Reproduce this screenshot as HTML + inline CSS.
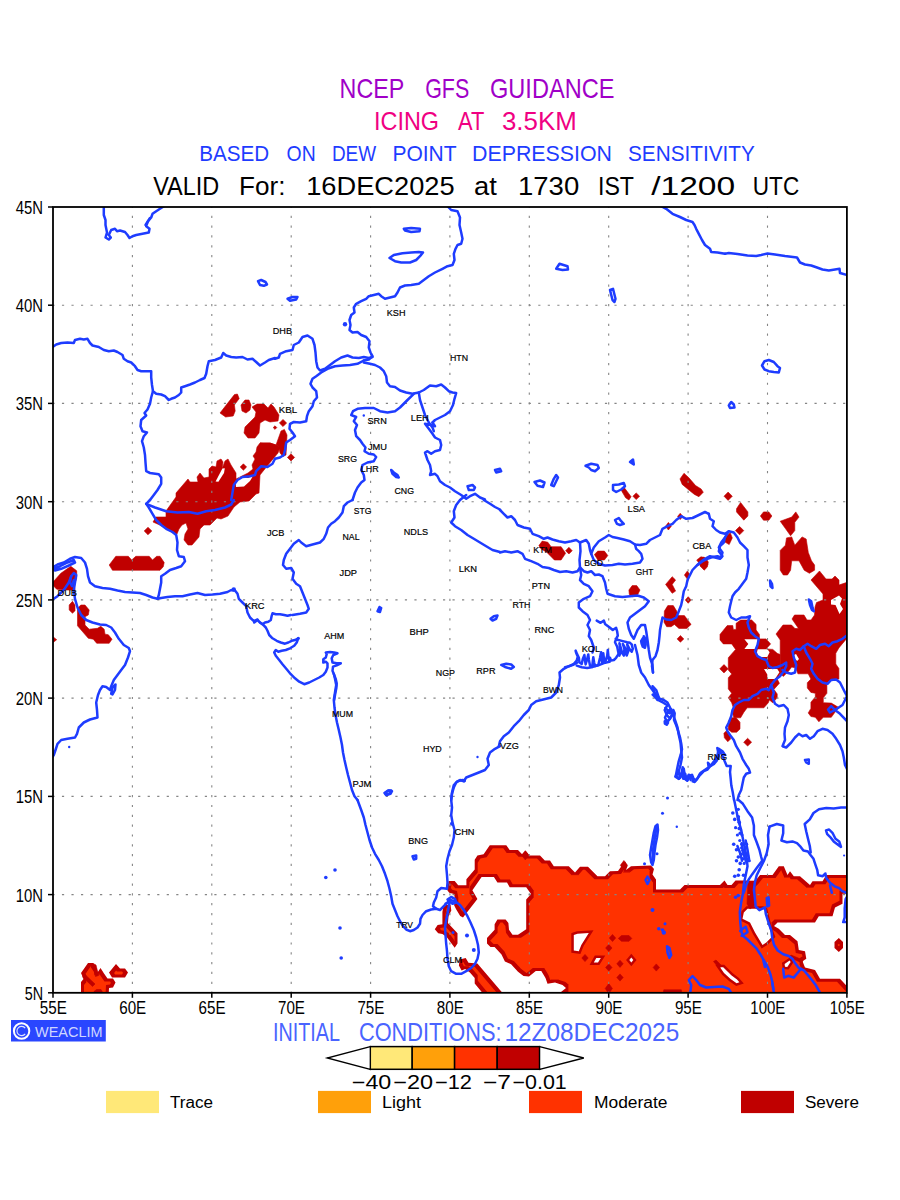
<!DOCTYPE html>
<html><head><meta charset="utf-8"><title>NCEP GFS Guidance - Icing</title>
<style>
html,body{margin:0;padding:0;background:#fff;}
body{width:900px;height:1200px;overflow:hidden;font-family:"Liberation Sans",sans-serif;}
svg{display:block;}
text{font-family:"Liberation Sans",sans-serif;}
.c{fill:none;stroke:#1e3cff;stroke-width:2.5;stroke-linejoin:round;stroke-linecap:round;}
.sv{fill:#c00000;stroke:#c00000;stroke-width:1;stroke-linejoin:round;}
.mo{fill:#ff3200;stroke:#c00000;stroke-width:2.4;stroke-linejoin:miter;}
.ho{fill:#fff;stroke:#c00000;stroke-width:2.4;stroke-linejoin:miter;}
.st{font-size:8.6px;fill:#000;}
</style></head><body>
<svg width="900" height="1200" viewBox="0 0 900 1200">
<rect x="0" y="0" width="900" height="1200" fill="#fff"/>
<defs><filter id="er" x="-5%" y="-5%" width="110%" height="110%" filterUnits="objectBoundingBox"><feMorphology operator="erode" radius="2.5"/></filter></defs>
<defs><clipPath id="mc"><rect x="53.0" y="207.0" width="793.9" height="785.8"/></clipPath></defs>
<g clip-path="url(#mc)">
<path fill="#c00000" d="M550.0 860.4 L553.8 866.3 L568.8 866.3 L575.0 872.5 L580.0 866.8 L588.0 866.8 L597.5 876.3 L605.0 876.3 L610.0 871.3 L618.0 871.0 L625.0 861.3 L627.5 866.3 L626.0 870.0 L631.0 866.3 L651.0 865.5 L654.0 869.0 L652.5 874.5 L656.0 879.5 L656.0 889.5 L680.0 889.5 L684.5 885.0 L720.0 885.0 L724.5 880.5 L727.5 885.0 L731.5 885.0 L735.5 880.5 L749.0 880.5 L752.0 884.0 L755.0 881.3 L760.0 875.0 L772.5 875.0 L778.8 866.3 L783.8 866.3 L787.5 875.0 L790.0 871.3 L793.8 876.3 L800.0 876.3 L810.0 885.0 L812.5 881.3 L822.5 881.3 L826.3 875.0 L860.0 875.0 L860.0 893.8 L842.5 893.8 L842.5 903.8 L835.0 907.5 L832.5 916.3 L818.8 916.3 L815.0 922.5 L777.5 922.5 L774.0 926.0 L778.8 928.8 L785.0 935.0 L790.0 935.0 L797.5 941.3 L798.8 950.0 L805.0 951.3 L806.3 958.8 L802.5 961.3 L805.0 967.5 L815.0 970.0 L820.0 978.8 L840.0 978.8 L860.0 1000.0 L860.0 1010.0 L561.0 1010.0 L561.0 992.0 L566.0 988.0 L562.5 985.0 L555.0 982.5 L547.5 983.8 L545.5 978.0 L541.3 971.1 L535.8 971.1 L529.0 976.6 L523.5 975.9 L518.0 971.8 L511.1 964.2 L504.9 961.5 L501.5 954.6 L494.6 947.0 L490.5 947.0 L487.0 943.6 L487.0 938.1 L494.6 929.8 L494.6 924.3 L497.4 919.5 L505.6 919.5 L508.4 923.0 L509.0 929.8 L512.5 934.7 L518.0 934.7 L526.2 929.2 L526.2 899.6 L531.0 894.1 L526.2 887.2 L509.7 887.2 L507.0 882.4 L497.4 882.4 L493.9 876.9 L481.6 876.9 L472.4 890.3 L477.4 898.9 L463.0 917.5 L460.2 916.1 L456.1 909.2 L454.0 905.1 L455.4 901.0 L454.0 894.1 L449.2 892.7 L447.2 890.0 L448.6 881.0 L454.7 881.0 L458.2 885.2 L466.4 885.2 L466.4 879.2 L474.7 869.4 L474.7 859.7 L477.4 855.6 L483.6 854.2 L489.8 845.3 L506.3 845.3 L509.7 850.1 L518.0 850.1 L522.1 854.2 L525.5 850.8 L529.7 855.6 L540.0 855.6 L544.8 860.4Z M443.7 905.1 L450.6 905.1 L451.3 910.6 L448.6 916.1 L447.9 923.0 L457.5 933.3 L457.5 943.6 L454.7 947.7 L450.6 942.2 L446.5 936.7 L442.4 934.0 L438.2 933.3 L434.8 929.2 L437.6 925.0 L442.4 924.3 L442.4 912.0Z M459.6 959.4 L465.7 958.0 L468.5 962.8 L477.4 963.5 L501.5 991.7 L517.1 1010.0 L496.7 1010.0 L481.5 991.7 L474.7 983.5 L474.7 978.0 L469.9 972.5 L465.1 969.0 L461.6 970.4 L458.9 965.6Z M838.8 938.0 L843.0 942.0 L843.0 948.0 L838.8 952.0 L834.5 948.0 L834.5 942.0Z M81.0 973.0 L88.0 963.0 L93.0 963.0 L97.0 969.0 L97.5 972.5 L100.5 968.0 L104.0 973.5 L107.5 978.5 L113.0 978.5 L115.5 982.5 L113.0 987.5 L109.0 988.0 L108.5 998.0 L81.0 998.0 L81.0 982.0 L83.5 979.0Z M109.0 972.5 L116.0 964.0 L120.0 968.5 L125.0 968.5 L128.0 972.5 L125.0 977.5 L112.0 977.5Z"/>
<g filter="url(#er)"><path fill="#ff3200" d="M550.0 860.4 L553.8 866.3 L568.8 866.3 L575.0 872.5 L580.0 866.8 L588.0 866.8 L597.5 876.3 L605.0 876.3 L610.0 871.3 L618.0 871.0 L625.0 861.3 L627.5 866.3 L626.0 870.0 L631.0 866.3 L651.0 865.5 L654.0 869.0 L652.5 874.5 L656.0 879.5 L656.0 889.5 L680.0 889.5 L684.5 885.0 L720.0 885.0 L724.5 880.5 L727.5 885.0 L731.5 885.0 L735.5 880.5 L749.0 880.5 L752.0 884.0 L755.0 881.3 L760.0 875.0 L772.5 875.0 L778.8 866.3 L783.8 866.3 L787.5 875.0 L790.0 871.3 L793.8 876.3 L800.0 876.3 L810.0 885.0 L812.5 881.3 L822.5 881.3 L826.3 875.0 L860.0 875.0 L860.0 893.8 L842.5 893.8 L842.5 903.8 L835.0 907.5 L832.5 916.3 L818.8 916.3 L815.0 922.5 L777.5 922.5 L774.0 926.0 L778.8 928.8 L785.0 935.0 L790.0 935.0 L797.5 941.3 L798.8 950.0 L805.0 951.3 L806.3 958.8 L802.5 961.3 L805.0 967.5 L815.0 970.0 L820.0 978.8 L840.0 978.8 L860.0 1000.0 L860.0 1010.0 L561.0 1010.0 L561.0 992.0 L566.0 988.0 L562.5 985.0 L555.0 982.5 L547.5 983.8 L545.5 978.0 L541.3 971.1 L535.8 971.1 L529.0 976.6 L523.5 975.9 L518.0 971.8 L511.1 964.2 L504.9 961.5 L501.5 954.6 L494.6 947.0 L490.5 947.0 L487.0 943.6 L487.0 938.1 L494.6 929.8 L494.6 924.3 L497.4 919.5 L505.6 919.5 L508.4 923.0 L509.0 929.8 L512.5 934.7 L518.0 934.7 L526.2 929.2 L526.2 899.6 L531.0 894.1 L526.2 887.2 L509.7 887.2 L507.0 882.4 L497.4 882.4 L493.9 876.9 L481.6 876.9 L472.4 890.3 L477.4 898.9 L463.0 917.5 L460.2 916.1 L456.1 909.2 L454.0 905.1 L455.4 901.0 L454.0 894.1 L449.2 892.7 L447.2 890.0 L448.6 881.0 L454.7 881.0 L458.2 885.2 L466.4 885.2 L466.4 879.2 L474.7 869.4 L474.7 859.7 L477.4 855.6 L483.6 854.2 L489.8 845.3 L506.3 845.3 L509.7 850.1 L518.0 850.1 L522.1 854.2 L525.5 850.8 L529.7 855.6 L540.0 855.6 L544.8 860.4Z M443.7 905.1 L450.6 905.1 L451.3 910.6 L448.6 916.1 L447.9 923.0 L457.5 933.3 L457.5 943.6 L454.7 947.7 L450.6 942.2 L446.5 936.7 L442.4 934.0 L438.2 933.3 L434.8 929.2 L437.6 925.0 L442.4 924.3 L442.4 912.0Z M459.6 959.4 L465.7 958.0 L468.5 962.8 L477.4 963.5 L501.5 991.7 L517.1 1010.0 L496.7 1010.0 L481.5 991.7 L474.7 983.5 L474.7 978.0 L469.9 972.5 L465.1 969.0 L461.6 970.4 L458.9 965.6Z M838.8 938.0 L843.0 942.0 L843.0 948.0 L838.8 952.0 L834.5 948.0 L834.5 942.0Z M81.0 973.0 L88.0 963.0 L93.0 963.0 L97.0 969.0 L97.5 972.5 L100.5 968.0 L104.0 973.5 L107.5 978.5 L113.0 978.5 L115.5 982.5 L113.0 987.5 L109.0 988.0 L108.5 998.0 L81.0 998.0 L81.0 982.0 L83.5 979.0Z M109.0 972.5 L116.0 964.0 L120.0 968.5 L125.0 968.5 L128.0 972.5 L125.0 977.5 L112.0 977.5Z"/></g>
<g fill="#fff" stroke="#c00000" stroke-width="5" paint-order="stroke" stroke-linejoin="miter">
<path d="M747.5 908.8 L762.5 908.8 L765.0 910.0 L770.0 930.0 L772.5 936.3 L766.3 942.5 L762.5 945.0 L755.0 932.5 L750.0 922.5 L742.5 918.8 L743.8 912.5Z"/>
<path d="M784.6 964.0 L789.6 960.6 L790.6 962.0 L787.3 967.0 L785.0 966.8Z"/>
<path d="M720.0 967.2 L723.2 967.2 L731.3 975.3 L737.0 979.6 L739.4 982.3 L736.6 983.2 L730.6 979.0 L724.0 973.0Z"/>
<path d="M573.8 935.0 L577.5 933.8 L588.8 933.0 L581.3 945.0 L578.8 951.3 L573.8 950.5Z"/>
<path d="M596.3 958.0 L600.8 958.0 L598.0 962.5 L593.8 962.5Z"/>
<path d="M629.3 960.0 L631.3 957.6 L633.3 960.0 L631.3 962.4Z"/>
</g>
<g fill="#c00000" stroke="#c00000" stroke-width="0.6" stroke-linejoin="round">
<path d="M82.5 977.0 L85.0 974.5 L95.0 984.0 L92.5 986.5Z"/>
<path d="M93.0 963.5 L96.0 965.0 L98.5 975.5 L95.5 976.5Z"/>
<path d="M94.0 991.5 L96.5 989.5 L101.0 989.5 L103.0 993.0 L94.0 993.0Z"/>
<path d="M609.3 938.0 L612.5 934.4 L615.7 938.0 L612.5 941.6Z"/>
<path d="M605.6 948.0 L608.8 944.4 L612.0 948.0 L608.8 951.6Z"/>
<path d="M581.8 958.0 L585.0 954.4 L588.2 958.0 L585.0 961.6Z"/>
<path d="M616.8 963.8 L620.0 960.2 L623.2 963.8 L620.0 967.4Z"/>
<path d="M605.6 967.5 L608.8 963.9 L612.0 967.5 L608.8 971.1Z"/>
<path d="M616.8 977.5 L620.0 973.9 L623.2 977.5 L620.0 981.1Z"/>
<path d="M653.1 967.5 L656.3 963.9 L659.5 967.5 L656.3 971.1Z"/>
<path d="M605.2 988.5 L608.8 983.5 L612.4 988.5 L608.8 993.5Z"/>
<path d="M521.7 855.3 L525.3 850.7 L528.9 855.3 L525.3 859.9Z"/>
<path d="M620.3 865.3 L623.9 860.5 L627.5 865.3 L623.9 870.1Z"/>
<path d="M618.3 938.4 L621.5 935.5 L629.0 935.5 L631.8 938.4 L629.0 941.3 L621.5 941.3Z"/>
<path d="M663.8 989.8 L681.3 989.8 L682.0 994.0 L663.0 994.0Z"/>
<path d="M748.0 881.0 L755.0 881.0 L755.0 905.0 L750.0 909.0 L747.0 904.0Z"/>
<path d="M713.5 961.5 L716.0 960.0 L722.0 966.0 L719.0 968.0Z"/>
<path d="M789.0 957.0 L791.0 955.0 L803.0 960.0 L802.0 963.0Z"/>
<path d="M220.0 413.0 L234.4 394.6 L237.4 394.0 L239.2 398.6 L234.4 405.0 L235.2 411.0 L233.2 416.0 L225.6 417.0Z"/>
<path d="M241.0 405.0 L245.0 400.0 L249.0 400.0 L251.0 405.0 L250.0 410.0 L246.0 413.0 L242.0 411.0Z"/>
<path d="M252.0 407.0 L257.0 404.0 L264.0 404.0 L268.0 408.0 L271.0 404.0 L274.0 407.0 L279.0 415.0 L278.0 421.0 L270.0 422.0 L265.0 420.0 L260.0 423.0 L259.0 433.0 L255.0 438.0 L248.0 438.0 L244.0 433.0 L245.0 427.0 L249.0 423.0 L255.0 417.0 L256.0 412.0Z"/>
<path d="M273.2 427.6 L275.0 425.8 L276.8 427.6 L275.0 429.4Z"/>
<path d="M279.4 423.0 L283.0 419.4 L286.6 423.0 L283.0 426.6Z"/>
<path d="M287.4 457.4 L291.0 453.8 L294.6 457.4 L291.0 461.0Z"/>
<path d="M240.2 467.0 L243.4 463.8 L246.6 467.0 L243.4 470.2Z"/>
<path d="M144.2 531.0 L148.0 527.2 L151.8 531.0 L148.0 534.8Z"/>
<path d="M281.0 431.0 L284.4 429.4 L287.0 435.0 L286.0 455.0 L283.0 456.4 L280.0 453.0 L278.4 446.0 L260.0 443.0 L270.0 443.0 L276.0 445.0Z"/>
<path d="M260.0 443.0 L270.0 443.0 L276.0 445.0 L280.0 447.0 L278.0 453.0 L268.0 465.0 L260.0 475.0 L259.0 493.0 L256.0 494.0 L249.0 501.0 L240.0 502.0 L234.0 507.0 L228.0 516.0 L221.0 519.0 L217.0 518.0 L210.0 525.0 L204.0 525.0 L200.0 529.0 L199.0 537.0 L192.0 545.0 L188.0 545.0 L184.0 540.0 L185.0 534.0 L188.0 529.0 L186.0 523.0 L182.0 525.0 L179.0 529.0 L177.0 534.0 L173.0 533.0 L162.0 526.0 L153.0 522.0 L156.0 517.0 L166.0 517.0 L166.0 511.0 L176.0 497.0 L176.0 493.0 L188.0 479.0 L190.0 482.0 L198.0 482.0 L197.0 477.0 L200.0 473.0 L204.0 478.0 L209.0 477.0 L209.0 469.0 L212.0 466.0 L216.0 467.0 L217.0 461.0 L221.0 459.0 L223.0 462.0 L222.0 469.0 L225.0 461.0 L228.0 459.0 L231.0 465.0 L236.0 473.0 L236.0 479.0 L248.0 473.0 L253.0 469.0 L252.0 465.0 L255.0 459.0 L253.0 456.0 L256.0 452.0 L257.0 447.0Z"/>
<path d="M109.2 565.0 L115.8 556.3 L128.3 556.3 L131.7 560.0 L135.8 556.3 L149.2 556.3 L152.5 560.0 L156.7 556.3 L160.0 556.3 L164.2 562.5 L163.3 566.7 L160.0 570.3 L112.5 570.3Z"/>
<path d="M46.7 583.3 L53.3 581.7 L60.8 573.3 L70.8 566.3 L76.7 570.8 L76.7 578.3 L74.2 585.0 L75.0 590.0 L65.0 590.0 L56.7 589.2 L53.3 585.8 L46.7 588.3Z"/>
<path d="M69.2 605.0 L72.5 601.3 L75.0 605.0 L75.0 610.8 L72.5 613.3 L69.2 610.0Z"/>
<path d="M77.5 608.3 L80.8 605.0 L85.0 605.0 L89.2 610.0 L88.3 615.0 L85.0 616.7 L85.0 625.0 L89.2 629.2 L97.5 628.3 L100.8 626.3 L104.2 629.2 L105.0 634.2 L108.3 634.7 L112.0 639.2 L109.2 643.3 L96.7 643.3 L93.3 639.2 L88.3 638.3 L77.5 625.8Z"/>
<path d="M48.3 636.3 L52.5 636.3 L56.7 639.7 L52.5 643.0 L48.3 643.0Z"/>
<path d="M538.9 545.6 L542.2 541.1 L547.8 542.2 L551.1 546.7 L561.1 546.7 L565.6 553.3 L561.1 560.0 L554.4 560.0 L546.7 552.2 L541.1 548.9Z"/>
<path d="M565.6 550.7 L568.9 547.3 L572.2 550.7 L568.9 554.0Z"/>
<path d="M594.4 554.4 L597.8 551.1 L604.4 551.1 L607.8 555.6 L604.4 560.0 L597.8 560.0Z"/>
<path d="M621.1 490.0 L624.4 487.8 L631.1 496.7 L628.9 500.0 L625.6 497.8Z"/>
<path d="M632.9 496.2 L636.2 492.9 L639.6 496.2 L636.2 499.6Z"/>
<path d="M680.0 478.9 L684.0 473.3 L688.9 477.8 L695.6 485.6 L701.1 488.9 L703.3 492.2 L698.9 496.7 L694.4 494.4 L688.9 490.0 L682.2 484.4Z"/>
<path d="M665.6 526.2 L668.4 522.4 L671.3 526.2 L668.4 530.0Z"/>
<path d="M677.6 516.4 L680.2 513.3 L682.9 516.4 L680.2 519.6Z"/>
<path d="M696.7 560.0 L701.1 556.7 L706.7 558.9 L707.8 564.4 L704.4 569.3 L700.0 564.4Z"/>
<path d="M684.4 575.1 L687.3 571.1 L690.2 575.1 L687.3 579.1Z"/>
<path d="M665.6 584.4 L672.2 576.7 L675.6 580.0 L672.2 584.4 L675.6 591.1 L672.2 593.3Z"/>
<path d="M685.3 600.0 L688.2 596.7 L691.1 600.0 L688.2 603.3Z"/>
<path d="M628.9 590.0 L632.2 585.6 L636.7 585.6 L640.0 590.0 L637.8 594.4 L632.2 596.7 L629.3 594.4Z"/>
<path d="M664.4 611.1 L667.8 605.6 L673.3 605.6 L676.7 611.1 L677.8 615.6 L684.4 615.6 L691.1 624.4 L686.7 628.4 L678.9 628.4 L674.4 624.4 L671.1 626.7 L666.7 626.7 L664.0 622.2Z"/>
<path d="M677.1 638.9 L680.4 635.6 L683.8 638.9 L680.4 642.2Z"/>
<path d="M724.0 496.2 L728.1 492.1 L732.3 496.2 L728.1 500.4Z"/>
<path d="M736.5 508.8 L740.6 502.5 L747.9 511.9 L747.9 516.0 L743.8 520.2 L736.5 511.9Z"/>
<path d="M735.4 530.6 L739.6 526.5 L743.8 530.6 L739.6 534.8Z"/>
<path d="M725.0 536.9 L730.2 532.7 L732.3 537.9 L729.2 544.6 L725.0 542.1Z"/>
<path d="M700.0 557.7 L704.2 557.1 L708.3 561.9 L707.3 567.1 L704.2 570.2 L700.0 566.0Z"/>
<path d="M760.4 516.0 L763.5 511.9 L768.8 511.9 L771.9 516.0 L768.8 520.2 L763.5 520.2Z"/>
<path d="M780.2 521.2 L791.7 517.1 L795.8 511.9 L799.0 517.1 L794.8 522.3 L794.8 530.6 L790.6 535.8 L785.4 528.5Z"/>
<path d="M780.2 550.4 L785.4 545.2 L786.5 537.9 L791.7 536.9 L794.8 545.2 L802.1 536.9 L806.2 539.0 L808.3 552.5 L811.5 560.8 L814.6 565.0 L814.6 570.2 L809.4 573.3 L804.2 570.2 L799.0 560.8 L791.7 560.8 L790.6 570.2 L787.5 575.0 L783.3 575.0 L780.2 570.2Z"/>
<path d="M811.0 580.0 L819.5 571.0 L826.0 579.0 L832.0 579.0 L835.0 576.0 L839.0 580.0 L839.0 585.0 L849.0 581.7 L849.0 635.8 L838.9 647.9 L835.8 653.3 L835.8 664.0 L838.9 668.4 L838.9 679.1 L832.2 679.1 L826.9 682.7 L826.9 693.3 L823.3 697.8 L823.3 702.7 L831.3 703.1 L838.9 707.6 L835.8 711.1 L831.3 717.3 L823.3 717.3 L818.9 721.8 L815.3 717.3 L810.9 716.5 L808.2 712.9 L810.9 708.4 L810.9 702.2 L815.3 696.9 L815.3 693.3 L810.9 692.4 L807.3 688.0 L807.3 682.7 L810.9 679.1 L808.2 673.8 L797.9 673.8 L795.8 668.1 L791.7 667.1 L788.5 671.2 L783.3 676.5 L780.2 673.3 L780.2 654.6 L780.2 640.0 L776.0 634.0 L783.0 625.0 L791.5 625.0 L795.0 628.5 L798.5 628.5 L792.0 619.0 L794.5 615.0 L804.0 615.0 L807.0 620.0 L811.0 620.0 L814.5 615.0 L815.0 607.0 L816.5 602.5 L823.0 600.0 L823.0 594.0Z"/>
<path d="M720.0 634.4 L727.2 625.6 L732.8 625.6 L733.3 629.4 L736.1 629.4 L736.1 623.3 L740.6 620.0 L751.7 620.0 L756.1 624.4 L756.1 630.0 L759.4 634.4 L759.4 638.9 L766.1 638.9 L770.6 643.9 L766.1 648.9 L772.8 649.4 L777.2 653.3 L780.2 654.6 L780.2 673.3 L777.2 678.9 L779.4 683.3 L773.9 689.4 L777.2 693.9 L777.2 697.8 L772.8 702.8 L769.4 700.0 L768.3 702.8 L763.9 707.8 L747.2 707.8 L743.9 712.2 L740.6 717.8 L733.9 717.8 L732.2 712.2 L733.3 707.8 L731.7 702.8 L728.3 697.8 L731.7 693.3 L728.3 688.9 L728.3 677.8 L731.7 673.9 L728.3 670.0 L728.3 657.8 L735.6 649.4 L731.7 643.9 L723.3 643.9 L720.0 640.0Z"/>
<path d="M731.7 717.8 L736.1 717.8 L740.0 722.2 L740.0 728.9 L736.7 732.2 L731.7 732.2 L728.3 729.4 L728.3 721.1Z"/>
<path d="M723.9 733.3 L726.1 731.1 L730.0 734.4 L730.6 738.9 L727.8 741.7 L724.4 737.8Z"/>
<path d="M719.8 668.8 L724.0 664.6 L728.1 668.8 L724.0 672.9Z"/>
<path d="M743.7 742.2 L747.6 738.3 L751.6 742.2 L747.6 746.1Z"/>
</g>
<g fill="#fff">
<path d="M831.0 600.0 L839.0 595.5 L842.0 598.5 L840.0 604.0 L843.0 609.0 L839.5 614.0 L835.5 605.0 L831.0 604.5Z"/>
<path d="M794.0 655.0 L796.0 654.0 L799.0 659.0 L797.1 661.0 L794.6 658.5Z"/>
<path d="M744.4 639.2 L757.7 639.2 L756.7 649.0 L744.4 649.0 L748.3 644.0Z"/>
<path d="M757.7 649.2 L767.5 649.2 L769.6 652.3 L767.3 656.9 L759.4 656.9 L756.7 653.3Z"/>
<path d="M764.0 669.0 L777.3 669.0 L779.4 672.3 L775.0 679.0 L767.3 679.0 L767.3 674.4Z"/>
<path d="M215.6 481.4 L222.4 468.6 L224.8 468.2 L224.0 473.0 L218.4 481.8Z"/>
<path d="M236.0 487.0 L235.6 481.0 L240.0 477.0 L248.0 478.0 L253.0 476.0 L250.0 481.0 L244.0 486.6Z"/>
</g>
</g>
<g stroke="#858585" stroke-width="1.1" fill="none">
<line x1="132.4" y1="207.0" x2="132.4" y2="992.8" stroke-dasharray="2.2 7.62" stroke-dashoffset="1.1"/>
<line x1="211.8" y1="207.0" x2="211.8" y2="992.8" stroke-dasharray="2.2 7.62" stroke-dashoffset="1.1"/>
<line x1="291.2" y1="207.0" x2="291.2" y2="992.8" stroke-dasharray="2.2 7.62" stroke-dashoffset="1.1"/>
<line x1="370.6" y1="207.0" x2="370.6" y2="992.8" stroke-dasharray="2.2 7.62" stroke-dashoffset="1.1"/>
<line x1="449.9" y1="207.0" x2="449.9" y2="992.8" stroke-dasharray="2.2 7.62" stroke-dashoffset="1.1"/>
<line x1="529.3" y1="207.0" x2="529.3" y2="992.8" stroke-dasharray="2.2 7.62" stroke-dashoffset="1.1"/>
<line x1="608.7" y1="207.0" x2="608.7" y2="992.8" stroke-dasharray="2.2 7.62" stroke-dashoffset="1.1"/>
<line x1="688.1" y1="207.0" x2="688.1" y2="992.8" stroke-dasharray="2.2 7.62" stroke-dashoffset="1.1"/>
<line x1="767.5" y1="207.0" x2="767.5" y2="992.8" stroke-dasharray="2.2 7.62" stroke-dashoffset="1.1"/>
<line x1="53.0" y1="894.6" x2="846.9" y2="894.6" stroke-dasharray="2.2 7.326" stroke-dashoffset="0.6"/>
<line x1="53.0" y1="796.4" x2="846.9" y2="796.4" stroke-dasharray="2.2 7.326" stroke-dashoffset="0.6"/>
<line x1="53.0" y1="698.1" x2="846.9" y2="698.1" stroke-dasharray="2.2 7.326" stroke-dashoffset="0.6"/>
<line x1="53.0" y1="599.9" x2="846.9" y2="599.9" stroke-dasharray="2.2 7.326" stroke-dashoffset="0.6"/>
<line x1="53.0" y1="501.7" x2="846.9" y2="501.7" stroke-dasharray="2.2 7.326" stroke-dashoffset="0.6"/>
<line x1="53.0" y1="403.4" x2="846.9" y2="403.4" stroke-dasharray="2.2 7.326" stroke-dashoffset="0.6"/>
<line x1="53.0" y1="305.2" x2="846.9" y2="305.2" stroke-dasharray="2.2 7.326" stroke-dashoffset="0.6"/>
</g>
<g clip-path="url(#mc)">
<g class="c">
<path d="M103.8 205.0 L103.8 215.0 L105.5 220.0 L105.5 225.0 L107.0 232.5 L105.5 237.5 L108.8 239.5 L110.8 237.5 L108.8 235.0 L111.2 230.0 L115.0 228.8 L117.0 231.2 L120.0 230.5 L125.0 232.0 L127.5 235.0 L129.5 238.0 L132.5 236.2 L136.2 235.0 L142.5 233.8 L148.8 232.5 L149.5 228.8 L146.2 226.2 L148.0 221.2 L151.2 217.5 L152.5 213.8 L156.2 211.2 L160.0 208.8 L165.0 205.5"/>
<path d="M145.5 225.0 L150.0 218.0"/>
<path d="M258.0 281.2 L261.2 280.0 L265.5 282.0 L267.0 284.5 L263.8 285.8 L260.0 285.0Z"/>
<path d="M51.2 348.0 L56.2 344.5 L61.2 343.0 L67.5 342.5 L73.8 343.0 L75.0 340.0 L80.0 338.8 L83.8 339.5 L87.5 338.8 L90.0 343.0 L92.5 345.5 L98.8 347.0 L103.8 350.0 L108.8 351.2 L113.8 350.5 L117.5 352.0 L122.5 355.0 L123.8 358.8 L127.5 361.2 L131.2 362.5 L135.0 366.2 L137.5 370.0 L141.2 371.2 L151.2 371.2 L151.2 377.5 L152.0 385.0 L153.0 391.2 L156.2 393.8 L161.2 394.5 L165.0 396.2 L168.8 400.0 L171.2 398.8 L175.0 397.5 L178.8 395.0 L181.2 392.5 L181.2 387.5 L185.0 386.2 L190.0 384.5 L195.0 382.5 L200.0 380.0 L204.5 378.0 L206.2 373.8 L207.5 366.2 L208.8 361.2 L215.0 360.0 L221.2 357.5 L223.2 353.0 L226.2 355.5 L231.2 357.0 L236.2 357.5 L242.5 357.0 L247.5 359.5 L252.5 358.8 L256.2 362.0 L260.0 365.5 L265.0 362.5 L268.8 360.0 L275.0 358.0"/>
<path d="M153.0 391.2 L151.2 397.5 L150.0 403.8 L147.5 409.5 L144.5 413.0 L146.2 415.5 L141.2 420.0 L140.5 426.2 L142.5 431.2 L147.0 432.5 L143.8 436.2 L142.0 441.2 L143.8 447.5 L145.0 455.0 L145.5 462.5 L146.2 471.2 L150.0 473.0 L158.8 474.2 L161.2 477.5 L161.2 483.8 L157.5 490.0 L153.8 495.0 L150.0 500.0"/>
<path d="M231.2 500.0 L232.5 492.5 L233.8 485.0 L237.5 480.0 L242.5 477.0 L250.0 476.2 L255.0 475.0 L256.2 471.2 L261.2 466.2 L267.5 467.0 L272.5 463.8 L275.0 458.8"/>
<path d="M447.5 206.2 L451.2 210.0 L457.5 211.2 L460.0 217.5 L459.5 225.0 L461.2 232.5 L462.5 238.8 L461.2 243.8 L457.5 245.0 L455.5 248.8 L453.8 253.8 L454.5 260.0 L452.5 265.0 L447.5 266.2 L442.5 268.8 L435.0 272.5 L428.8 276.2 L423.8 280.0 L418.8 283.8 L411.2 285.0 L405.0 285.5 L400.0 287.5 L397.5 292.5 L395.0 296.2 L390.0 297.5 L385.0 298.8 L381.2 296.2 L378.8 293.8 L373.8 295.0 L368.8 296.2 L366.2 298.8 L361.2 301.2 L356.2 303.8 L353.8 307.5 L354.5 312.5 L351.2 315.0 L349.5 320.0 L350.5 325.0 L349.5 330.0 L352.5 332.5 L357.5 332.0 L361.2 335.0 L366.2 337.0 L369.5 341.2 L368.8 347.5 L370.5 352.5 L372.5 356.2 L368.8 359.5 L363.8 360.5"/>
<path d="M389.5 258.0 L393.8 255.0 L402.5 253.2 L411.2 252.5 L418.8 252.0 L423.0 252.5 L420.0 256.2 L416.2 260.0 L410.0 262.5 L401.2 262.5 L395.0 261.2Z"/>
<path d="M403.8 228.8 L411.2 228.0 L420.0 228.8 L419.5 231.2 L411.2 232.0 L405.0 230.5Z"/>
<path d="M287.5 298.8 L292.5 297.0 L297.5 297.0 L296.2 299.5 L290.0 300.8Z"/>
<path d="M275.0 358.8 L278.8 357.5 L280.0 353.8 L286.2 351.2 L292.5 350.0 L293.8 345.0 L298.8 342.5 L302.5 337.0 L307.5 335.5 L312.5 338.8 L314.5 345.0 L315.5 352.5 L316.2 361.2 L317.5 367.5 L320.0 370.5 L325.0 368.8 L330.0 365.0 L335.0 361.2 L341.2 357.5 L347.5 355.5 L352.5 357.5 L358.8 358.0 L363.8 357.0 L368.8 358.0 L372.5 357.0"/>
<path d="M363.8 360.5 L357.5 363.8 L350.0 365.0 L342.5 365.5 L335.0 366.2 L327.5 368.8 L321.2 372.5 L316.2 376.2 L312.5 378.8 L310.5 383.8 L312.5 387.5 L316.2 391.2 L317.0 397.5 L313.8 401.2 L312.5 406.2 L308.8 411.2 L307.0 416.2 L306.2 421.2 L300.0 422.5 L293.8 422.0 L290.0 423.8 L289.5 428.8 L292.5 432.5 L295.0 436.2 L290.0 440.0 L286.2 442.5 L285.0 450.0 L283.8 455.0 L280.0 457.5 L275.0 458.8"/>
<path d="M363.8 362.5 L370.0 363.8 L375.0 365.0 L380.0 367.5 L383.8 371.2 L386.2 376.2 L387.0 382.5 L390.0 386.2 L395.0 387.0 L400.0 390.5 L406.2 392.5 L412.5 393.8 L418.8 392.5 L423.8 390.0 L430.0 385.5 L436.2 386.2 L441.2 384.5 L445.0 387.5 L448.8 391.2 L452.5 392.5 L456.2 393.0 L454.5 398.8 L453.0 405.0 L450.0 411.2 L445.0 415.0 L440.0 417.5 L435.0 420.0 L432.5 422.5"/>
<path d="M418.8 392.5 L420.0 400.0 L422.5 407.5 L425.0 415.0 L428.8 422.5 L432.5 427.5 L433.8 431.2"/>
<path d="M413.8 393.8 L407.5 400.0 L400.0 407.5 L395.0 411.2 L387.5 412.5 L380.0 411.2 L373.8 408.0 L365.0 408.0 L357.5 408.8 L353.0 411.2 L351.2 415.0 L356.2 417.0 L353.8 421.2 L357.0 425.0 L355.0 430.0 L356.2 436.2 L360.0 440.0 L362.5 443.8 L365.5 447.5 L364.5 451.2 L368.8 453.8 L373.8 454.5 L376.2 457.0 L373.8 461.2 L367.5 462.5 L362.5 465.0 L361.2 470.0 L363.8 475.0 L364.5 480.0 L361.2 482.5 L357.5 487.5 L355.0 492.5 L352.5 500.0"/>
<path d="M432.5 422.5 L435.0 426.2 L431.2 425.0 L425.0 423.8 L428.8 428.8 L432.5 433.8 L435.0 437.5 L440.0 440.0 L441.2 445.0 L440.0 450.0 L435.0 451.2 L431.2 453.8 L427.5 451.2 L425.0 452.5 L427.5 460.0 L430.0 465.0 L431.2 471.2 L430.0 475.0 L435.0 473.8 L437.5 476.2 L440.0 481.2 L445.0 485.0 L450.0 487.5 L455.0 491.2 L461.2 495.0 L466.2 498.8 L470.0 496.2 L475.0 493.8 L480.0 497.5 L485.0 499.5"/>
<path d="M391.2 470.0 L393.8 472.5 L397.5 475.0 L398.8 477.5 L396.2 477.0 L392.5 473.8Z"/>
<path d="M467.5 486.2 L472.5 485.0 L475.0 487.5 L473.8 490.0 L468.8 490.0Z"/>
<path d="M495.0 470.0 L500.0 468.8 L501.2 471.2 L496.2 472.5Z"/>
<path d="M660.0 205.5 L666.2 208.8 L672.5 213.8 L680.0 217.0 L686.2 220.0 L692.5 222.0 L694.5 225.0 L696.2 228.8 L698.8 233.8 L702.0 240.0 L705.0 245.0 L710.0 248.8 L711.2 252.0 L717.5 252.5 L725.0 253.8"/>
<path d="M556.2 268.8 L559.5 263.8 L567.5 266.2 L568.0 269.5 L562.5 270.0Z"/>
<path d="M610.0 290.0 L613.0 288.8 L615.5 298.8 L614.5 302.0 L612.5 300.0Z"/>
<path d="M630.0 462.0 L633.0 459.5 L633.8 464.5Z"/>
<path d="M585.5 465.8 L591.2 463.8 L597.5 465.0 L598.8 468.0 L595.0 471.2 L591.2 470.0 L588.8 467.5Z"/>
<path d="M534.5 482.0 L540.0 480.5 L544.5 482.5 L543.0 487.0 L537.5 485.8Z"/>
<path d="M551.2 485.0 L553.8 478.8 L556.2 475.0 L558.0 477.5 L556.2 481.2 L553.8 486.2Z"/>
<path d="M613.0 485.0 L618.8 484.5 L623.8 483.0 L625.0 486.2 L621.2 489.5 L616.2 492.0 L613.0 490.0Z"/>
<path d="M725.0 253.8 L728.8 253.0 L737.5 254.0 L747.5 255.5 L756.2 256.0 L761.2 255.0 L767.5 253.5 L775.0 254.5 L785.0 256.0 L797.0 257.5 L800.0 262.5 L805.0 264.5 L811.2 265.5 L817.0 267.5 L822.5 269.5 L828.8 270.5 L835.0 269.5 L839.5 268.8 L840.0 273.0 L848.8 275.5"/>
<path d="M762.0 365.5 L764.5 361.2 L768.8 360.0 L773.8 362.0 L777.5 366.2 L780.0 368.0 L778.8 372.5 L773.8 372.0 L768.8 371.2 L764.5 369.5Z"/>
<path d="M728.8 405.5 L731.2 402.0 L733.8 404.5 L734.5 407.5 L730.0 408.0Z"/>
<path d="M146.2 503.8 L155.0 507.5 L166.2 511.2 L177.5 512.5 L188.8 512.0 L197.5 513.8 L206.2 511.2 L215.0 510.0 L225.0 507.5 L231.2 504.5 L233.8 500.0"/>
<path d="M150.0 500.0 L146.2 503.8 L148.8 507.5 L152.5 513.8 L156.2 520.0 L161.2 525.0 L166.2 528.8 L172.5 532.0 L176.2 535.0 L177.5 542.5 L177.0 550.0 L178.8 556.2 L183.8 557.0 L185.0 561.2 L181.2 566.2 L176.2 568.0 L170.0 570.0 L165.0 573.8 L161.2 576.2 L161.2 582.5 L160.0 588.8 L158.8 595.0 L157.5 598.8"/>
<path d="M50.0 568.8 L57.5 564.5 L63.8 562.5 L70.0 558.8 L75.0 557.0 L81.2 558.0 L85.0 562.5 L87.0 568.8 L88.0 576.2 L90.0 582.5 L95.0 586.2 L102.5 588.0 L110.0 588.8 L117.5 590.5 L125.0 592.0 L132.5 592.5 L140.0 593.0 L146.2 595.0 L152.5 597.5 L157.5 598.8 L161.2 598.0 L167.5 597.0 L175.0 596.2 L182.5 596.2 L190.0 594.5 L197.5 593.0 L205.0 595.0 L212.5 594.5 L220.0 593.8 L227.5 592.0 L231.2 590.0 L235.0 590.5 L237.5 593.8 L238.8 598.8 L242.5 602.5 L246.2 606.2 L247.5 612.5 L250.0 617.5 L253.8 621.2 L257.5 619.5"/>
<path d="M254.2 622.5 L257.5 620.0 L260.0 622.5 L262.5 624.2 L265.8 627.5 L267.5 630.8 L269.2 635.0 L272.5 638.3 L276.7 640.8 L280.8 642.5 L285.0 643.7 L288.3 642.5 L291.7 640.8 L295.0 640.0 L298.3 638.3 L296.7 642.5 L294.2 645.8 L290.0 648.3 L285.8 650.0 L281.7 650.8 L278.3 651.7 L275.8 650.0 L274.2 652.5 L275.8 655.8 L279.2 660.0 L282.5 664.2 L286.7 669.2 L290.8 674.2 L295.0 678.3 L299.2 681.7 L304.2 684.2 L309.2 682.5 L314.2 680.0 L319.2 677.5 L323.3 675.0 L325.8 671.7 L327.5 667.5 L327.5 663.3 L325.8 661.7 L323.3 662.5 L323.3 659.2 L325.8 657.5 L326.7 654.2 L325.8 652.5 L330.0 652.0 L334.2 652.5 L337.5 653.3 L333.3 655.0 L331.7 658.3 L332.5 662.5 L336.7 663.3 L340.8 663.3 L336.7 665.3 L333.0 666.7 L332.5 670.8 L334.2 675.0 L335.8 679.2 L336.7 683.3 L336.3 688.3 L335.3 693.3 L334.2 700.0"/>
<path d="M290.8 615.0 L287.5 615.8 L284.2 615.0 L280.0 614.2 L275.8 614.2 L272.5 613.3 L271.7 615.8 L270.8 620.0 L268.3 621.7 L265.0 622.5 L262.5 624.2 L260.0 622.5"/>
<path d="M52.5 568.8 L60.0 566.2 L67.5 562.5 L73.8 560.0 L75.0 562.5 L68.8 565.5 L61.2 568.8 L55.0 570.5Z"/>
<path d="M50.0 601.2 L57.5 596.2 L63.8 590.0 L68.8 582.5 L71.2 576.2 L73.8 573.0 L76.2 575.0 L75.0 582.5 L73.8 590.0 L75.0 598.8 L77.5 607.5 L81.2 615.0 L86.2 620.0 L92.5 622.5 L100.0 624.5 L106.2 625.0 L111.2 627.5 L115.0 632.5 L118.8 638.8 L123.8 645.0 L128.8 648.0 L130.0 651.2 L128.0 657.5 L125.0 665.0 L121.2 670.0 L117.5 675.0 L113.8 680.0 L111.2 686.2 L110.0 690.0 L106.2 687.0 L102.5 686.2 L100.0 690.0 L98.0 695.0 L96.2 702.5 L97.0 710.0 L97.5 717.5 L90.0 719.5 L83.8 722.5 L78.8 727.5 L77.0 733.8 L75.0 737.5 L67.5 738.8 L61.2 740.0 L57.5 743.8 L55.5 750.0 L53.8 755.0 L51.2 758.8"/>
<path d="M71.2 576.2 L70.0 582.5 L72.0 586.2 L73.8 580.0"/>
<path d="M111.2 693.8 L112.5 687.5 L115.5 684.5 L115.0 690.0 L112.5 694.5Z"/>
<path d="M352.5 500.0 L347.5 502.5 L343.8 506.2 L342.5 512.5 L338.8 517.5 L335.0 521.2 L331.2 523.8 L328.0 527.5 L326.2 533.8 L323.8 538.8 L320.0 542.5 L312.5 544.5 L306.2 546.2 L301.2 542.5 L298.8 540.0 L293.8 543.8 L290.0 548.8 L286.2 553.8 L283.8 560.0 L283.0 565.0 L286.2 568.8 L291.2 568.0 L293.8 572.5 L292.5 578.8 L296.2 583.8 L300.0 586.2 L302.5 592.5 L305.0 598.8 L307.5 605.0 L308.8 608.8 L306.2 612.5 L300.0 613.8 L292.5 615.0"/>
<path d="M333.8 673.8 L335.0 678.8 L336.2 685.0 L335.0 692.5 L333.8 700.0 L334.5 707.5 L335.5 715.0 L337.0 722.5 L338.8 730.0 L340.5 737.5 L342.0 745.0 L343.0 752.5 L344.5 760.0 L346.2 767.5 L348.0 775.0 L350.0 782.5 L352.0 790.0 L354.5 796.2 L357.5 800.0"/>
<path d="M466.2 495.0 L460.0 500.0 L456.2 505.0 L453.8 511.2 L454.5 517.5 L451.2 522.5 L455.0 526.2 L461.2 530.0 L467.5 535.0 L473.8 538.8 L480.0 542.5 L486.2 546.2 L492.5 550.0 L500.0 552.0"/>
<path d="M483.8 500.0 L490.0 503.8 L495.0 507.0 L500.0 509.5"/>
<path d="M500.0 746.2 L495.0 748.8 L490.0 752.5 L487.5 758.8 L488.8 765.0 L485.0 770.0 L478.8 772.5 L472.5 775.0 L466.2 777.5 L463.8 781.2 L460.0 780.0 L456.2 782.5 L453.8 787.5 L452.0 793.8 L451.2 800.0"/>
<path d="M377.5 611.2 L379.5 607.0 L381.2 608.0 L380.0 612.0Z"/>
<path d="M490.5 618.8 L493.8 616.2 L497.5 615.5 L496.2 618.8 L492.5 620.5Z"/>
<path d="M384.5 793.0 L388.0 790.5 L391.2 790.5 L390.5 793.0 L386.2 795.0Z"/>
<path d="M500.0 510.0 L503.8 513.8 L507.5 517.5 L511.2 516.2 L515.0 520.0 L517.5 525.0 L523.8 527.5 L530.0 528.8 L532.5 533.8 L538.8 536.2 L543.8 538.8 L547.5 537.5 L552.5 539.5 L558.8 541.2 L565.0 542.5 L571.2 541.2 L576.2 540.0 L580.0 542.5"/>
<path d="M500.0 552.5 L505.0 551.2 L511.2 552.5 L517.5 551.2 L522.5 553.8 L525.0 558.8 L531.2 561.2 L537.5 563.8 L542.5 567.0 L548.8 568.0 L553.8 570.0 L560.0 572.0 L566.2 571.2 L572.5 572.5 L577.5 571.2 L580.0 567.5 L579.5 560.0 L580.5 551.2 L580.0 542.5"/>
<path d="M580.0 542.5 L586.2 540.0 L588.8 543.8 L590.0 550.0 L591.2 553.8 L593.8 547.5 L598.8 541.2 L605.0 537.5 L608.8 535.0 L612.5 537.0 L617.5 538.0 L623.8 539.5 L630.0 541.2 L635.0 544.5 L640.0 545.0 L646.2 543.8 L650.0 540.0 L655.0 537.5 L660.0 535.0 L662.5 528.8 L667.5 526.2 L672.5 523.8 L676.2 520.0 L681.2 516.2 L686.2 518.8 L692.5 518.0 L698.8 515.0 L705.0 512.0 L708.8 513.8"/>
<path d="M591.2 553.8 L593.8 560.0 L598.8 563.8 L605.0 565.5 L612.5 565.0 L618.8 563.8 L625.0 564.5 L632.5 563.8 L640.0 562.5 L642.5 558.8 L641.2 553.8 L638.8 551.2 L636.2 548.8 L635.0 544.5"/>
<path d="M580.0 567.5 L583.8 571.2 L587.5 572.5 L591.2 571.2 L595.0 575.0 L598.8 574.5 L602.5 576.2 L605.0 582.5 L606.2 588.8 L607.5 593.8 L615.0 596.2 L622.5 597.0 L630.0 596.2 L637.5 595.5 L643.8 597.5 L648.8 601.2 L645.0 606.2 L640.0 610.0 L635.0 613.8 L630.0 617.5 L627.5 622.5 L628.8 628.8 L631.2 635.0 L633.8 638.8 L637.5 630.0 L641.2 625.0 L645.0 625.0 L646.2 631.2 L647.5 640.0 L648.8 650.0 L650.0 657.5 L652.5 665.0 L653.0 672.5"/>
<path d="M580.0 567.5 L581.2 575.0 L580.0 580.0 L583.8 583.8 L588.8 586.2 L592.5 591.2 L590.0 596.2 L583.8 598.8 L578.8 602.5 L578.8 607.5 L582.5 611.2 L587.5 615.0 L590.0 620.0 L587.5 625.0 L590.0 630.0 L588.8 636.2 L591.2 640.0 L593.8 647.5 L592.5 652.5"/>
<path d="M498.8 746.2 L500.0 741.2 L503.8 736.2 L508.8 732.5 L513.8 726.2 L518.8 721.2 L523.8 715.0 L528.8 710.0 L531.2 705.0 L536.2 701.2 L541.2 700.0 L546.2 698.8 L551.2 697.5 L556.2 692.5 L558.8 685.0 L560.0 677.5 L559.5 672.5 L563.8 668.8 L568.8 666.2 L573.8 664.5 L577.5 662.5"/>
<path d="M635.0 645.0 L637.5 655.0 L638.8 665.0 L641.2 672.5 L645.0 677.5 L648.8 685.0 L652.5 690.0 L656.2 695.0 L660.0 698.8 L663.8 700.0 L667.5 702.5 L670.0 707.5 L672.5 713.8 L675.0 720.0 L677.5 727.5 L678.8 735.0 L680.5 742.5 L681.2 750.0 L682.0 757.5 L680.5 765.0 L678.8 771.2 L676.2 776.2 L678.8 778.8 L682.5 773.8 L683.8 768.8 L685.0 777.5 L687.5 780.0 L690.0 775.0 L692.5 778.8 L696.2 780.0 L700.0 775.0 L703.8 771.2 L707.5 769.5 L711.2 765.0 L715.0 760.0 L717.5 755.0 L718.8 748.8 L722.5 751.2 L725.0 755.0"/>
<path d="M665.0 717.5 L667.5 712.5 L671.2 710.0 L672.5 713.8 L670.0 718.8 L667.0 722.5Z"/>
<path d="M652.5 686.2 L656.2 690.0 L658.8 697.5 L657.5 700.0 L654.5 693.8Z"/>
<path d="M653.0 672.5 L652.0 666.2 L652.5 660.0 L655.5 656.2 L657.5 650.0 L658.8 642.5 L659.5 636.2 L660.0 630.0 L661.2 623.8 L662.5 617.5 L666.2 619.5 L671.2 620.0 L676.2 617.5 L678.8 611.2 L681.2 605.0 L682.5 598.8 L683.8 591.2 L686.2 586.2 L687.5 580.0 L690.0 575.0 L692.5 570.0 L696.2 566.2 L700.0 562.5 L705.0 558.8 L710.0 556.2 L715.0 557.5 L720.0 558.8 L722.5 556.2 L718.8 551.2 L720.0 546.2 L723.8 542.5 L725.0 537.5"/>
<path d="M615.0 520.0 L618.8 518.0 L621.2 521.2 L623.8 523.8 L620.0 525.0 L617.0 523.8Z"/>
<path d="M501.2 665.0 L506.2 663.8 L511.2 664.5 L513.8 667.0 L511.2 668.8 L505.0 667.0Z"/>
<path d="M643.8 636.2 L646.2 640.0 L645.0 646.2 L643.0 642.5Z"/>
<path d="M565.0 667.2 L569.4 666.1 L573.9 663.9 L576.7 660.6 L577.8 656.7 L576.1 652.8 L575.6 650.6 L577.2 654.4 L578.9 657.8 L579.4 662.2 L581.7 663.9 L582.8 658.9 L584.4 655.0 L585.0 660.0 L585.6 664.4 L587.2 658.9 L588.3 654.4 L588.9 660.0 L590.0 665.6 L592.2 666.7 L592.8 661.1 L593.3 657.2 L594.1 662.2 L595.0 666.1 L598.3 665.0 L600.0 657.8 L601.1 652.2 L601.7 658.9 L602.2 663.3 L603.3 657.8 L603.3 653.3 L604.1 660.0 L605.0 662.8 L607.2 655.6 L607.8 650.0 L608.6 657.8 L609.4 661.7 L610.0 657.8 L611.1 660.6 L613.9 660.0 L616.1 657.8 L618.3 654.4 L620.0 650.0"/>
<path d="M576.7 665.6 L581.7 667.2 L587.2 668.0 L592.8 666.9 L598.3 665.3 L603.9 663.1 L609.4 661.8"/>
<path d="M596.7 620.6 L600.6 622.8 L603.9 620.6 L605.0 623.9 L609.4 627.2 L612.8 630.0 L616.1 627.8 L617.2 631.7 L617.8 635.6 L616.1 638.9 L615.0 642.2 L617.2 646.7 L618.3 652.2 L619.4 655.6 L620.6 651.1 L619.4 643.3 L621.1 648.9 L622.2 653.3 L623.9 655.6 L624.4 648.9 L622.8 643.9 L625.6 648.9 L626.7 655.6 L628.3 651.1 L627.2 644.4 L629.4 648.9 L631.7 651.7 L632.8 648.9 L631.7 644.4 L630.0 642.8 L627.2 642.2 L622.8 641.1 L618.3 640.0 L615.6 638.9"/>
<path d="M641.1 641.1 L642.8 638.3 L644.4 640.0 L645.6 644.4 L645.0 647.8 L642.8 646.7 L641.7 643.9Z"/>
<path d="M642.8 640.0 L644.1 645.6"/>
<path d="M708.8 513.8 L710.0 518.8 L713.8 521.2 L712.5 526.2 L716.2 530.0 L720.0 532.5 L725.0 533.8 L728.8 531.2 L733.8 532.5 L737.5 537.5 L740.0 542.5 L743.8 546.2 L747.5 550.0 L747.5 557.5 L748.8 565.0 L747.5 572.5 L746.2 578.8 L742.5 583.8 L738.8 588.8 L735.0 592.5 L732.5 596.2 L731.2 601.2 L730.0 606.2 L728.8 612.5 L731.2 617.5 L736.2 620.0 L741.2 617.5 L746.2 617.5 L750.0 616.2 L747.5 622.5 L748.8 627.5 L751.2 632.5 L755.0 636.2 L758.8 638.8 L757.5 645.0 L755.0 651.2 L757.5 656.2 L762.5 658.8 L766.2 660.0 L768.8 666.2 L772.5 668.0 L777.5 667.0 L782.5 665.0 L786.2 662.5 L786.2 666.2 L783.8 671.2 L780.0 676.2 L775.0 680.0 L771.2 685.0 L768.8 690.0"/>
<path d="M728.8 531.2 L725.0 537.5 L721.2 542.5 L718.8 547.5 L722.5 552.5 L721.2 557.5 L717.5 556.2 L712.5 557.0 L707.5 558.8 L702.5 561.2 L697.5 565.0"/>
<path d="M768.8 690.0 L766.2 688.8 L761.2 690.0 L757.5 693.8 L752.5 696.2 L748.8 700.0 L743.8 700.0 L738.8 702.5 L735.0 705.0 L732.5 710.0 L731.2 716.2 L728.8 722.5 L726.2 727.5 L727.5 731.2 L730.0 735.0 L733.8 740.0 L736.2 746.2 L740.0 752.5 L742.5 758.8 L746.2 765.0 L748.8 768.8 L750.0 772.5 L746.2 773.8 L743.8 777.5 L742.5 783.8 L741.2 790.0 L738.8 795.0 L737.5 800.0"/>
<path d="M848.8 633.8 L842.5 638.8 L837.5 641.2 L832.5 642.5 L828.8 646.2 L825.0 643.8 L820.0 645.0 L816.2 648.8 L811.2 646.2 L807.5 643.8 L803.8 646.2 L800.0 650.0 L796.2 648.8 L792.5 651.2 L793.8 657.5 L796.2 665.0 L795.0 672.5 L791.2 673.8 L786.2 672.5 L782.5 670.0"/>
<path d="M803.8 646.2 L806.2 652.5 L810.0 658.8 L812.5 663.8 L811.2 668.8 L813.8 673.8 L817.5 678.8 L822.5 682.5 L827.5 683.8 L831.2 680.0 L836.2 679.5 L840.0 682.5 L842.5 687.5 L845.0 692.5 L847.0 696.2 L845.0 700.0 L842.5 705.0 L838.8 707.5 L835.0 710.0 L830.0 712.5 L828.0 709.5 L831.2 706.2 L835.0 710.0 L840.0 713.8 L848.8 723.0"/>
<path d="M771.2 685.0 L773.8 692.5 L772.5 697.5 L775.0 703.8 L778.8 706.2 L783.8 705.0 L787.5 708.8 L788.8 715.0 L787.5 721.2 L785.0 727.5 L784.5 733.8 L785.0 740.0 L782.5 746.2 L786.2 747.5 L791.2 742.5 L795.0 737.5 L798.8 733.8 L802.5 736.2 L806.2 735.0 L810.0 738.8 L813.8 736.2 L817.5 731.2 L822.5 728.8 L827.5 730.0 L832.5 733.8 L836.2 738.8 L840.0 745.0 L842.5 751.2 L843.8 757.5 L845.0 765.0 L848.8 772.5"/>
<path d="M652.7 694.7 L658.0 700.0 L663.3 702.7 L667.3 705.3 L664.7 710.0 L666.7 714.7 L670.0 718.7 L672.0 714.7 L673.3 710.0 L674.7 713.3 L674.0 720.0 L676.0 724.7 L678.0 730.7 L680.0 737.3 L681.3 744.0 L682.0 749.3 L680.7 754.7 L678.7 761.3 L677.3 768.0 L676.0 774.7 L675.3 776.7 L678.7 778.7 L681.3 774.7 L682.7 767.3 L684.0 772.7 L684.7 778.7 L687.3 780.7 L690.0 776.0 L692.0 774.7 L693.3 778.0 L692.7 781.3 L694.7 782.0 L697.3 778.7 L699.3 774.7 L700.7 772.7 L704.7 770.0 L708.7 767.3 L708.0 762.7 L710.7 766.0 L714.0 764.0 L716.7 760.7 L718.7 756.0 L718.0 751.3 L717.3 748.0 L720.0 751.3 L722.7 756.0 L724.7 761.3 L726.7 766.0 L730.7 766.0 L730.0 772.0 L730.7 778.7 L731.3 785.3 L732.7 792.0 L734.0 800.0"/>
<path d="M678.7 772.0 L680.0 778.0 L682.0 772.0 L683.3 778.7 L685.3 774.0 L686.7 780.0 L688.7 774.7 L690.7 780.0"/>
<path d="M664.7 721.3 L666.7 720.0 L668.0 722.7 L666.7 724.7 L664.9 723.7Z"/>
<path d="M665.3 708.0 L668.0 710.7 L671.3 709.3 L670.0 713.3 L667.3 712.0"/>
<path d="M770.0 580.5 L772.0 583.8 L772.5 588.0 L770.5 586.2Z"/>
<path d="M808.8 599.5 L811.2 601.2 L812.5 607.5 L813.8 611.2 L812.0 610.0 L810.0 605.0Z"/>
<path d="M805.0 760.0 L808.8 759.5 L808.8 763.8 L806.2 762.5Z"/>
<path d="M357.5 800.0 L361.2 810.0 L363.8 817.5 L365.5 825.0 L367.5 832.5 L369.5 840.0 L372.0 847.5 L375.0 853.8 L378.8 860.0 L382.0 866.2 L385.0 873.8 L387.5 881.2 L389.5 888.8 L391.2 896.2 L392.5 903.8 L395.0 910.0 L397.5 916.2 L400.0 921.2 L403.0 926.2 L406.2 929.5 L410.0 931.2 L413.8 930.0 L417.5 927.5 L420.0 923.8 L420.5 918.8 L422.5 915.0 L426.2 911.2 L431.2 909.5 L436.2 908.8 L440.0 910.0 L443.8 906.2 L447.5 902.5 L450.0 900.0"/>
<path d="M462.5 780.0 L457.5 781.2 L453.8 785.0 L452.0 792.5 L451.2 800.0 L452.0 807.5 L451.2 815.0 L452.5 822.5 L454.5 830.0 L453.8 837.5 L452.0 845.0 L449.5 851.2 L447.5 858.8 L446.2 866.2 L447.0 875.0 L447.5 882.5 L447.0 888.8 L441.2 888.0 L437.5 891.2 L436.2 897.5 L433.8 902.5 L433.0 906.2 L436.2 908.8"/>
<path d="M447.5 899.5 L451.2 897.0 L455.0 898.8 L456.2 902.5 L452.5 903.8Z"/>
<path d="M450.0 900.0 L455.0 901.2 L460.0 905.0 L463.8 910.0 L467.5 916.2 L470.5 922.5 L473.8 930.0 L476.2 937.5 L478.0 945.0 L478.8 952.5 L477.5 958.8 L475.0 963.8 L471.2 968.0 L466.2 971.2 L461.2 973.8 L456.2 973.8 L451.2 971.2 L448.8 966.2 L447.5 958.8 L447.0 951.2 L446.2 943.8 L445.5 935.0 L445.0 927.5 L446.2 920.0 L447.5 913.8 L448.8 906.2Z"/>
<path d="M412.5 856.2 L416.2 855.5 L416.2 858.8 L413.8 859.5Z"/>
<path d="M385.0 793.0 L388.8 790.5 L392.0 791.2 L390.5 793.8 L386.2 795.0Z"/>
<path d="M651.2 862.5 L650.0 855.0 L651.2 847.5 L652.5 840.0 L653.8 832.5 L655.5 826.2 L657.5 824.5 L658.0 830.0 L657.0 837.5 L655.5 845.0 L654.5 852.5 L653.8 860.0 L652.5 865.0Z"/>
<path d="M652.5 860.0 L653.0 850.0 L654.5 840.0 L656.0 830.0 L657.0 826.2"/>
<path d="M645.5 880.0 L647.5 876.5 L649.5 880.0 L647.5 884.0Z"/>
<path d="M667.0 946.2 L669.5 948.0 L671.2 955.0 L669.5 958.0 L667.5 952.5Z"/>
<path d="M734.3 800.5 L736.5 811.2 L738.3 820.3 L741.1 829.5 L742.9 838.7 L744.7 847.8 L746.6 857.0 L747.5 866.2 L745.7 875.3 L743.8 884.5 L742.9 893.7 L741.1 902.8 L739.8 912.0 L740.2 921.2 L741.1 930.3 L742.9 935.8 L747.5 939.5 L752.1 944.1 L756.7 948.7 L760.3 954.2 L764.0 960.6 L767.7 967.0 L770.4 974.3 L772.2 981.6 L773.2 989.0 L774.6 996.3"/>
<path d="M738.3 799.8 L742.9 803.8 L747.5 811.2 L752.1 817.6 L753.9 825.8 L753.9 835.0 L756.7 842.3 L759.4 849.7 L761.2 857.0 L762.2 860.7 L756.7 868.0 L752.1 874.4 L748.4 879.9 L745.7 886.3 L743.8 892.7"/>
<path d="M769.5 826.7 L768.0 835.0 L768.6 844.2 L766.7 853.3 L764.0 860.7 L760.3 868.0 L756.7 875.3 L754.8 882.7 L753.9 890.0 L754.8 897.3 L755.7 906.5 L759.4 910.2 L764.9 907.4 L765.8 913.8 L768.6 923.0 L771.3 930.3 L772.2 937.7 L774.1 945.0 L777.7 950.5 L783.2 954.2 L788.7 956.0 L792.4 958.7 L795.2 963.3 L798.8 967.9 L804.3 970.7 L808.0 975.2 L811.7 979.8 L815.3 984.4 L819.0 990.8 L821.7 996.3"/>
<path d="M769.5 826.7 L776.8 824.0 L783.2 825.5 L783.2 833.2 L781.4 840.5 L786.9 842.3 L792.4 841.4 L797.0 843.2 L800.7 846.9 L803.4 850.6 L808.0 851.5 L810.7 855.2 L813.5 858.8 L815.3 864.3 L817.2 869.8 L818.1 875.3 L822.7 876.2 L825.4 873.5 L826.3 878.1 L830.0 882.7 L834.6 886.3 L839.2 888.2 L841.9 890.9 L847.4 893.3"/>
<path d="M830.0 885.4 L831.8 892.7"/>
<path d="M848.3 894.6 L845.6 899.2 L844.7 908.3 L844.7 917.5 L843.2 922.1 L846.5 922.1"/>
<path d="M810.7 852.4 L809.8 846.0 L808.0 838.7 L806.2 831.3 L804.7 824.0 L809.8 819.4 L813.5 813.0 L819.0 809.3 L826.3 807.9 L833.7 808.4 L841.0 807.5 L848.3 807.5"/>
<path d="M826.0 830.4 L829.1 829.5 L832.7 833.2 L835.5 838.7 L839.2 841.4 L841.0 846.9 L837.3 844.2 L833.7 841.4 L830.0 836.8 L827.2 834.1Z"/>
<path d="M783.2 968.8 L784.2 977.6 L788.2 975.8 L793.7 977.6 L797.9 972.5 L801.0 968.8"/>
<path d="M763.4 960.6 L764.9 967.0"/>
<path d="M766.7 898.2 L768.6 897.3 L769.1 905.6 L767.3 906.5Z"/>
<path d="M772.2 982.6 L773.5 989.0"/>
<path d="M741.6 843.2 L743.5 853.3 L746.0 861.6"/>
<path d="M737.4 846.0 L740.2 853.3 L742.0 860.7"/>
<path d="M745.7 840.5 L747.5 849.7 L749.0 858.8"/>
<path d="M738.3 816.7 L739.8 824.0"/>
<path d="M740.2 931.2 L742.9 928.5 L745.7 926.7 L747.5 932.2 L744.7 934.0 L741.6 935.8"/>
<path d="M690.0 995.0 L691.2 985.0 L688.8 980.0 L692.5 976.2 L696.2 980.0 L700.0 985.0 L706.2 987.5 L713.8 987.0 L722.5 986.5 L728.8 988.8 L732.5 995.0"/>
</g>
<g fill="#1e3cff">
<circle cx="345.0" cy="324.2" r="2.2"/>
<circle cx="363.8" cy="415.5" r="1.2"/>
<circle cx="298.3" cy="638.3" r="1.5"/>
<circle cx="233.8" cy="589.5" r="2.2"/>
<circle cx="69.2" cy="747.0" r="1.2"/>
<circle cx="477.5" cy="757.0" r="1.2"/>
<circle cx="464.5" cy="780.0" r="1.5"/>
<circle cx="467.0" cy="935.5" r="2.0"/>
<circle cx="473.8" cy="950.0" r="2.0"/>
<circle cx="453.0" cy="932.5" r="1.5"/>
<circle cx="445.8" cy="903.8" r="1.5"/>
<circle cx="335.0" cy="870.0" r="1.8"/>
<circle cx="325.8" cy="877.5" r="1.8"/>
<circle cx="340.0" cy="928.0" r="1.8"/>
<circle cx="341.2" cy="958.0" r="1.8"/>
<circle cx="452.0" cy="823.8" r="2.0"/>
<circle cx="464.2" cy="780.8" r="1.8"/>
<circle cx="667.5" cy="798.0" r="1.5"/>
<circle cx="662.5" cy="813.2" r="1.5"/>
<circle cx="676.8" cy="826.8" r="1.2"/>
<circle cx="644.5" cy="863.8" r="1.5"/>
<circle cx="657.0" cy="853.8" r="1.5"/>
<circle cx="652.5" cy="910.0" r="2.0"/>
<circle cx="665.0" cy="923.8" r="1.5"/>
<circle cx="658.8" cy="928.8" r="1.8"/>
<circle cx="663.8" cy="932.5" r="2.2"/>
<circle cx="662.5" cy="930.0" r="1.8"/>
<circle cx="844.1" cy="855.5" r="1.1"/>
<circle cx="732.8" cy="813.0" r="1.8"/>
<circle cx="734.7" cy="819.4" r="1.8"/>
<circle cx="738.3" cy="816.7" r="1.8"/>
<circle cx="739.2" cy="822.2" r="1.8"/>
<circle cx="740.2" cy="833.2" r="1.8"/>
<circle cx="733.7" cy="844.2" r="1.8"/>
<circle cx="736.5" cy="849.7" r="1.8"/>
<circle cx="742.0" cy="844.2" r="1.8"/>
<circle cx="742.9" cy="850.6" r="1.8"/>
<circle cx="745.7" cy="847.8" r="1.8"/>
<circle cx="738.3" cy="857.0" r="1.8"/>
<circle cx="742.9" cy="858.8" r="1.8"/>
<circle cx="747.5" cy="860.7" r="1.8"/>
<circle cx="744.7" cy="855.2" r="1.8"/>
<circle cx="740.2" cy="863.4" r="1.8"/>
<circle cx="736.5" cy="860.7" r="1.8"/>
<circle cx="739.2" cy="869.8" r="1.8"/>
<circle cx="743.5" cy="875.3" r="1.8"/>
<circle cx="734.7" cy="876.2" r="1.8"/>
<circle cx="738.3" cy="875.3" r="1.8"/>
<circle cx="738.3" cy="895.5" r="1.8"/>
<circle cx="735.6" cy="897.3" r="1.8"/>
<circle cx="739.2" cy="828.6" r="1.8"/>
<circle cx="743.8" cy="852.4" r="1.8"/>
<circle cx="741.1" cy="854.2" r="1.8"/>
<circle cx="747.5" cy="855.2" r="1.6"/>
<circle cx="749.3" cy="860.7" r="1.6"/>
<circle cx="746.6" cy="844.2" r="1.6"/>
<circle cx="741.6" cy="847.8" r="1.6"/>
<circle cx="739.8" cy="840.5" r="1.6"/>
<circle cx="744.2" cy="863.4" r="1.6"/>
<circle cx="737.4" cy="835.0" r="1.6"/>
<circle cx="742.0" cy="835.0" r="1.6"/>
<circle cx="735.6" cy="827.7" r="1.6"/>
<circle cx="738.3" cy="809.3" r="1.6"/>
</g>
</g>
<g font-size="9.3px" fill="#000" stroke="#000" stroke-width="0.2">
<text x="386.8" y="315.8" textLength="18.7" lengthAdjust="spacingAndGlyphs">KSH</text>
<text x="450.0" y="361.3" textLength="18.0" lengthAdjust="spacingAndGlyphs">HTN</text>
<text x="278.8" y="412.5" textLength="18.2" lengthAdjust="spacingAndGlyphs">KBL</text>
<text x="367.5" y="423.8" textLength="19.3" lengthAdjust="spacingAndGlyphs">SRN</text>
<text x="410.8" y="421.3" textLength="18.0" lengthAdjust="spacingAndGlyphs">LEH</text>
<text x="368.0" y="449.5" textLength="19.0" lengthAdjust="spacingAndGlyphs">JMU</text>
<text x="338.0" y="461.8" textLength="19.0" lengthAdjust="spacingAndGlyphs">SRG</text>
<text x="360.8" y="472.0" textLength="18.0" lengthAdjust="spacingAndGlyphs">LHR</text>
<text x="394.5" y="494.3" textLength="19.5" lengthAdjust="spacingAndGlyphs">CNG</text>
<text x="272.7" y="334.0" textLength="19.3" lengthAdjust="spacingAndGlyphs">DHB</text>
<text x="353.8" y="514.3" textLength="17.5" lengthAdjust="spacingAndGlyphs">STG</text>
<text x="342.5" y="540.0" textLength="17.0" lengthAdjust="spacingAndGlyphs">NAL</text>
<text x="403.8" y="535.0" textLength="24.2" lengthAdjust="spacingAndGlyphs">NDLS</text>
<text x="339.5" y="576.3" textLength="17.5" lengthAdjust="spacingAndGlyphs">JDP</text>
<text x="458.8" y="572.0" textLength="18.2" lengthAdjust="spacingAndGlyphs">LKN</text>
<text x="324.3" y="638.8" textLength="20.0" lengthAdjust="spacingAndGlyphs">AHM</text>
<text x="409.5" y="634.5" textLength="19.3" lengthAdjust="spacingAndGlyphs">BHP</text>
<text x="435.8" y="675.5" textLength="19.2" lengthAdjust="spacingAndGlyphs">NGP</text>
<text x="476.3" y="673.8" textLength="19.2" lengthAdjust="spacingAndGlyphs">RPR</text>
<text x="332.0" y="717.0" textLength="21.0" lengthAdjust="spacingAndGlyphs">MUM</text>
<text x="423.0" y="752.0" textLength="18.8" lengthAdjust="spacingAndGlyphs">HYD</text>
<text x="352.5" y="787.0" textLength="18.8" lengthAdjust="spacingAndGlyphs">PJM</text>
<text x="267.0" y="536.0" textLength="17.4" lengthAdjust="spacingAndGlyphs">JCB</text>
<text x="245.0" y="609.3" textLength="19.5" lengthAdjust="spacingAndGlyphs">KRC</text>
<text x="57.5" y="596.2" textLength="19.5" lengthAdjust="spacingAndGlyphs">DUB</text>
<text x="627.5" y="512.0" textLength="17.5" lengthAdjust="spacingAndGlyphs">LSA</text>
<text x="533.3" y="553.0" textLength="18.7" lengthAdjust="spacingAndGlyphs">KTM</text>
<text x="584.3" y="566.3" textLength="18.7" lengthAdjust="spacingAndGlyphs">BGD</text>
<text x="635.8" y="575.0" textLength="17.5" lengthAdjust="spacingAndGlyphs">GHT</text>
<text x="692.5" y="549.3" textLength="18.8" lengthAdjust="spacingAndGlyphs">CBA</text>
<text x="531.8" y="588.8" textLength="18.2" lengthAdjust="spacingAndGlyphs">PTN</text>
<text x="512.5" y="607.5" textLength="18.0" lengthAdjust="spacingAndGlyphs">RTH</text>
<text x="534.5" y="633.0" textLength="19.8" lengthAdjust="spacingAndGlyphs">RNC</text>
<text x="581.8" y="652.0" textLength="18.2" lengthAdjust="spacingAndGlyphs">KOL</text>
<text x="543.0" y="693.0" textLength="20.0" lengthAdjust="spacingAndGlyphs">BWN</text>
<text x="500.0" y="749.3" textLength="18.8" lengthAdjust="spacingAndGlyphs">VZG</text>
<text x="707.5" y="760.0" textLength="19.5" lengthAdjust="spacingAndGlyphs">RNG</text>
<text x="408.3" y="844.0" textLength="19.7" lengthAdjust="spacingAndGlyphs">BNG</text>
<text x="454.5" y="834.5" textLength="20.0" lengthAdjust="spacingAndGlyphs">CHN</text>
<text x="396.3" y="928.0" textLength="16.7" lengthAdjust="spacingAndGlyphs">TRV</text>
<text x="443.0" y="962.5" textLength="19.0" lengthAdjust="spacingAndGlyphs">CLM</text>
</g>
<rect x="53.0" y="207.0" width="793.9" height="785.8" fill="none" stroke="#000" stroke-width="1.8"/>
<g stroke="#000" stroke-width="1.5">
<line x1="53.0" y1="992.8" x2="53.0" y2="997.8"/>
<line x1="132.4" y1="992.8" x2="132.4" y2="997.8"/>
<line x1="211.8" y1="992.8" x2="211.8" y2="997.8"/>
<line x1="291.2" y1="992.8" x2="291.2" y2="997.8"/>
<line x1="370.6" y1="992.8" x2="370.6" y2="997.8"/>
<line x1="449.9" y1="992.8" x2="449.9" y2="997.8"/>
<line x1="529.3" y1="992.8" x2="529.3" y2="997.8"/>
<line x1="608.7" y1="992.8" x2="608.7" y2="997.8"/>
<line x1="688.1" y1="992.8" x2="688.1" y2="997.8"/>
<line x1="767.5" y1="992.8" x2="767.5" y2="997.8"/>
<line x1="846.9" y1="992.8" x2="846.9" y2="997.8"/>
<line x1="48.0" y1="992.8" x2="53.0" y2="992.8"/>
<line x1="48.0" y1="894.6" x2="53.0" y2="894.6"/>
<line x1="48.0" y1="796.4" x2="53.0" y2="796.4"/>
<line x1="48.0" y1="698.1" x2="53.0" y2="698.1"/>
<line x1="48.0" y1="599.9" x2="53.0" y2="599.9"/>
<line x1="48.0" y1="501.7" x2="53.0" y2="501.7"/>
<line x1="48.0" y1="403.4" x2="53.0" y2="403.4"/>
<line x1="48.0" y1="305.2" x2="53.0" y2="305.2"/>
<line x1="48.0" y1="207.0" x2="53.0" y2="207.0"/>
</g>
<g font-size="17.6px" fill="#000">
<text x="39.8" y="1013.9" textLength="27.0" lengthAdjust="spacingAndGlyphs">55E</text>
<text x="119.2" y="1013.9" textLength="27.0" lengthAdjust="spacingAndGlyphs">60E</text>
<text x="198.6" y="1013.9" textLength="27.0" lengthAdjust="spacingAndGlyphs">65E</text>
<text x="278.0" y="1013.9" textLength="27.0" lengthAdjust="spacingAndGlyphs">70E</text>
<text x="357.4" y="1013.9" textLength="27.0" lengthAdjust="spacingAndGlyphs">75E</text>
<text x="436.8" y="1013.9" textLength="27.0" lengthAdjust="spacingAndGlyphs">80E</text>
<text x="516.1" y="1013.9" textLength="27.0" lengthAdjust="spacingAndGlyphs">85E</text>
<text x="595.5" y="1013.9" textLength="27.0" lengthAdjust="spacingAndGlyphs">90E</text>
<text x="674.9" y="1013.9" textLength="27.0" lengthAdjust="spacingAndGlyphs">95E</text>
<text x="750.3" y="1013.9" textLength="35.0" lengthAdjust="spacingAndGlyphs">100E</text>
<text x="829.7" y="1013.9" textLength="35.0" lengthAdjust="spacingAndGlyphs">105E</text>
<text x="24.7" y="999.7" textLength="18.3" lengthAdjust="spacingAndGlyphs">5N</text>
<text x="15.7" y="901.5" textLength="27.3" lengthAdjust="spacingAndGlyphs">10N</text>
<text x="15.7" y="803.2" textLength="27.3" lengthAdjust="spacingAndGlyphs">15N</text>
<text x="15.7" y="705.0" textLength="27.3" lengthAdjust="spacingAndGlyphs">20N</text>
<text x="15.7" y="606.8" textLength="27.3" lengthAdjust="spacingAndGlyphs">25N</text>
<text x="15.7" y="508.6" textLength="27.3" lengthAdjust="spacingAndGlyphs">30N</text>
<text x="15.7" y="410.3" textLength="27.3" lengthAdjust="spacingAndGlyphs">35N</text>
<text x="15.7" y="312.1" textLength="27.3" lengthAdjust="spacingAndGlyphs">40N</text>
<text x="15.7" y="213.9" textLength="27.3" lengthAdjust="spacingAndGlyphs">45N</text>
</g>
<g font-size="27.3px" fill="#a000c8" >
<text x="339.6" y="98" textLength="64.7" lengthAdjust="spacingAndGlyphs">NCEP</text>
<text x="425.2" y="98" textLength="44.1" lengthAdjust="spacingAndGlyphs">GFS</text>
<text x="490.0" y="98" textLength="124.4" lengthAdjust="spacingAndGlyphs">GUIDANCE</text>
</g>
<g font-size="25.5px" fill="#f00082" >
<text x="374.0" y="130" textLength="65.1" lengthAdjust="spacingAndGlyphs">ICING</text>
<text x="458.0" y="130" textLength="26.3" lengthAdjust="spacingAndGlyphs">AT</text>
<text x="502.0" y="130" textLength="74.7" lengthAdjust="spacingAndGlyphs">3.5KM</text>
</g>
<g font-size="22px" fill="#1e3cff" >
<text x="199.3" y="161.3" textLength="69.9" lengthAdjust="spacingAndGlyphs">BASED</text>
<text x="286.6" y="161.3" textLength="29.1" lengthAdjust="spacingAndGlyphs">ON</text>
<text x="331.9" y="161.3" textLength="44.2" lengthAdjust="spacingAndGlyphs">DEW</text>
<text x="392.4" y="161.3" textLength="64.2" lengthAdjust="spacingAndGlyphs">POINT</text>
<text x="472.0" y="161.3" textLength="140.0" lengthAdjust="spacingAndGlyphs">DEPRESSION</text>
<text x="628.0" y="161.3" textLength="126.8" lengthAdjust="spacingAndGlyphs">SENSITIVITY</text>
</g>
<g font-size="25px" fill="#000" >
<text x="153.2" y="195" textLength="66.1" lengthAdjust="spacingAndGlyphs">VALID</text>
<text x="239.0" y="195" textLength="46.4" lengthAdjust="spacingAndGlyphs">For:</text>
<text x="306.2" y="195" textLength="148.5" lengthAdjust="spacingAndGlyphs">16DEC2025</text>
<text x="474.0" y="195" textLength="22.8" lengthAdjust="spacingAndGlyphs">at</text>
<text x="518.0" y="195" textLength="61.2" lengthAdjust="spacingAndGlyphs">1730</text>
<text x="598.0" y="195" textLength="36.0" lengthAdjust="spacingAndGlyphs">IST</text>
<text x="651.2" y="195" textLength="84.0" lengthAdjust="spacingAndGlyphs">/1200</text>
<text x="752.8" y="195" textLength="46.4" lengthAdjust="spacingAndGlyphs">UTC</text>
</g>
<rect x="11" y="1020" width="94.8" height="21.5" fill="#2a46ff"/>
<circle cx="21.6" cy="1031" r="7.7" fill="none" stroke="#fff" stroke-width="2"/>
<path d="M25.2 1028.2 A4.6 4.6 0 1 0 25.2 1033.8" fill="none" stroke="#dfe4ff" stroke-width="1.1"/>
<text x="35" y="1036.6" font-size="15.2px" fill="#cfd6ff" textLength="67.5" lengthAdjust="spacingAndGlyphs" font-weight="normal">WEACLIM</text>
<g font-size="25.6px" fill="#4a64ff" >
<text x="273.0" y="1041.3" textLength="67.0" lengthAdjust="spacingAndGlyphs">INITIAL</text>
<text x="359.0" y="1041.3" textLength="142.5" lengthAdjust="spacingAndGlyphs">CONDITIONS:</text>
<text x="504.5" y="1041.3" textLength="174.7" lengthAdjust="spacingAndGlyphs">12Z08DEC2025</text>
</g>
<rect x="370.3" y="1046.6" width="41.9" height="22.7" fill="#ffe878" stroke="#000" stroke-width="1.5"/>
<rect x="412.2" y="1046.6" width="42.4" height="22.7" fill="#ffa00a" stroke="#000" stroke-width="1.5"/>
<rect x="454.6" y="1046.6" width="42.6" height="22.7" fill="#ff3200" stroke="#000" stroke-width="1.5"/>
<rect x="497.2" y="1046.6" width="42.4" height="22.7" fill="#c00000" stroke="#000" stroke-width="1.5"/>
<path d="M370.3 1046.6 L327.2 1058 L370.3 1069.3 Z" fill="#fff" stroke="#000" stroke-width="1.3"/>
<path d="M539.6 1046.6 L583.8 1058 L539.6 1069.3 Z" fill="#fff" stroke="#000" stroke-width="1.3"/>
<g font-size="19.8px" fill="#000" >
<text x="351.8" y="1088.8" textLength="39.5" lengthAdjust="spacingAndGlyphs">−40</text>
<text x="393.2" y="1088.8" textLength="39.8" lengthAdjust="spacingAndGlyphs">−20</text>
<text x="435.0" y="1088.8" textLength="37.0" lengthAdjust="spacingAndGlyphs">−12</text>
<text x="483.0" y="1088.8" textLength="28.0" lengthAdjust="spacingAndGlyphs">−7</text>
<text x="512.6" y="1088.8" textLength="54.2" lengthAdjust="spacingAndGlyphs">−0.01</text>
</g>
<rect x="106" y="1090.9" width="53" height="22.2" fill="#ffe878"/>
<text x="170" y="1108" font-size="16px" fill="#000" textLength="43" lengthAdjust="spacingAndGlyphs">Trace</text>
<rect x="318" y="1090.9" width="53" height="22.2" fill="#ffa00a"/>
<text x="382" y="1108" font-size="16px" fill="#000" textLength="39" lengthAdjust="spacingAndGlyphs">Light</text>
<rect x="529" y="1090.9" width="53" height="22.2" fill="#ff3200"/>
<text x="594" y="1108" font-size="16px" fill="#000" textLength="73.5" lengthAdjust="spacingAndGlyphs">Moderate</text>
<rect x="741" y="1090.9" width="53" height="22.2" fill="#c00000"/>
<text x="805" y="1108" font-size="16px" fill="#000" textLength="54" lengthAdjust="spacingAndGlyphs">Severe</text>
</svg>
</body></html>
